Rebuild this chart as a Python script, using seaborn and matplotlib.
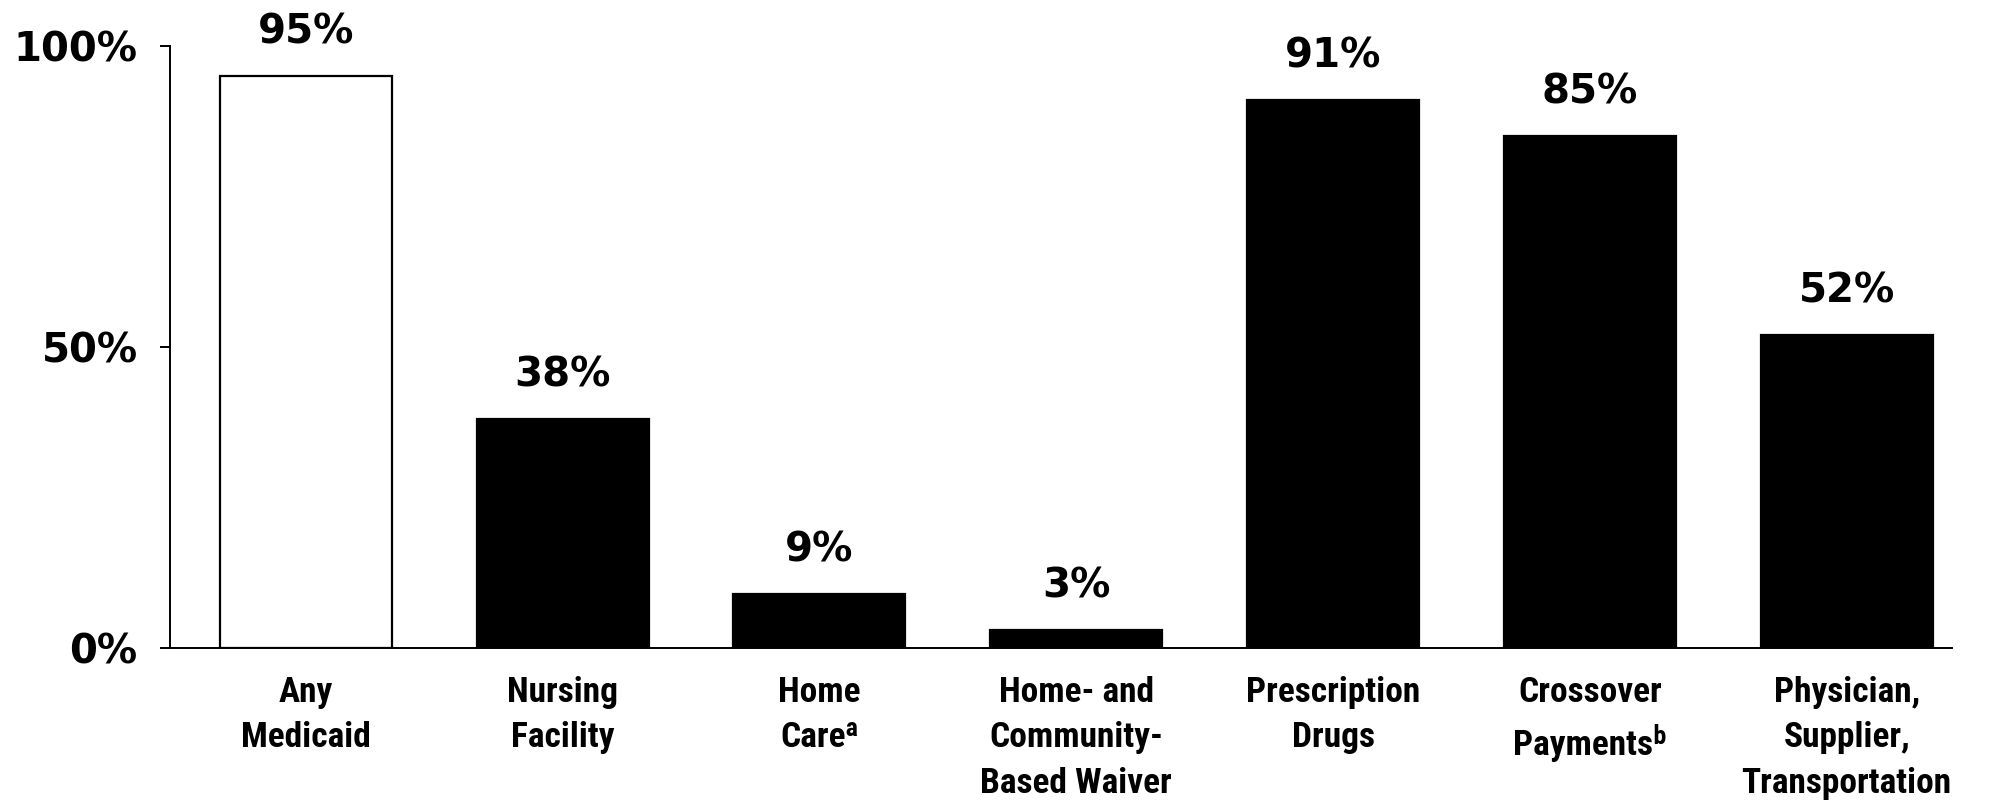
import matplotlib
matplotlib.use("Agg")
import matplotlib.pyplot as plt
import seaborn as sns
import pandas as pd

categories = ["Any\nMedicaid", "Nursing\nFacility", "Home\nCare\u1d43",
              "Home- and\nCommunity-\nBased Waiver", "Prescription\nDrugs",
              "Crossover\nPayments\u1d47", "Physician,\nSupplier,\nTransportation"]
values = [95, 38, 9, 3, 91, 85, 52]
colors = ["#ffffff", "#000000", "#000000", "#000000", "#000000", "#000000", "#000000"]
yticks = [0, 50, 100]
ytick_labels = ["0%", "50%", "100%"]

sns.set_theme(style="white")
narrow = ["Roboto Condensed", "DejaVu Sans"]
plt.rcParams["font.family"] = ["DejaVu Sans"]
plt.rcParams["text.color"] = "black"
plt.rcParams["xtick.color"] = "black"
plt.rcParams["ytick.color"] = "black"

df = pd.DataFrame({"cat": categories, "val": values})

fig = plt.figure(figsize=(20.01, 8.02), dpi=100)
ax = fig.add_axes([0.0848, 0.192, 0.8907, 0.7507])

sns.barplot(data=df, x="cat", y="val", hue="cat", palette=colors, legend=False,
            width=0.67, ax=ax, edgecolor="black", linewidth=1.6, saturation=1)

ax.set_xlim(-0.53, 6.41)
ax.set_ylim(0, 100)
ax.set_yticks(yticks)
ax.set_yticklabels(ytick_labels, fontsize=29, fontweight="bold", family="DejaVu Sans", color="black")
ax.set_xlabel("")
ax.set_ylabel("")
for lab in ax.get_xticklabels():
    lab.set_fontfamily(narrow)
    lab.set_fontsize(25.5)
    lab.set_fontweight("bold")
    lab.set_color("black")
    lab.set_linespacing(1.48)

ax.tick_params(axis="x", length=0, pad=20)
ax.tick_params(axis="y", length=7, width=1.4, color="black", pad=16, direction="out", left=True)
for s in ["top", "right"]:
    ax.spines[s].set_visible(False)
for s in ["left", "bottom"]:
    ax.spines[s].set_color("black")
    ax.spines[s].set_linewidth(1.4)

for cont in ax.containers:
    ax.bar_label(cont, labels=[f"{v:.0f}%" for v in cont.datavalues], padding=17,
                 fontsize=29, fontweight="bold", family="DejaVu Sans", color="black", clip_on=False)

fig.savefig("out.png", dpi=100, facecolor="white")
